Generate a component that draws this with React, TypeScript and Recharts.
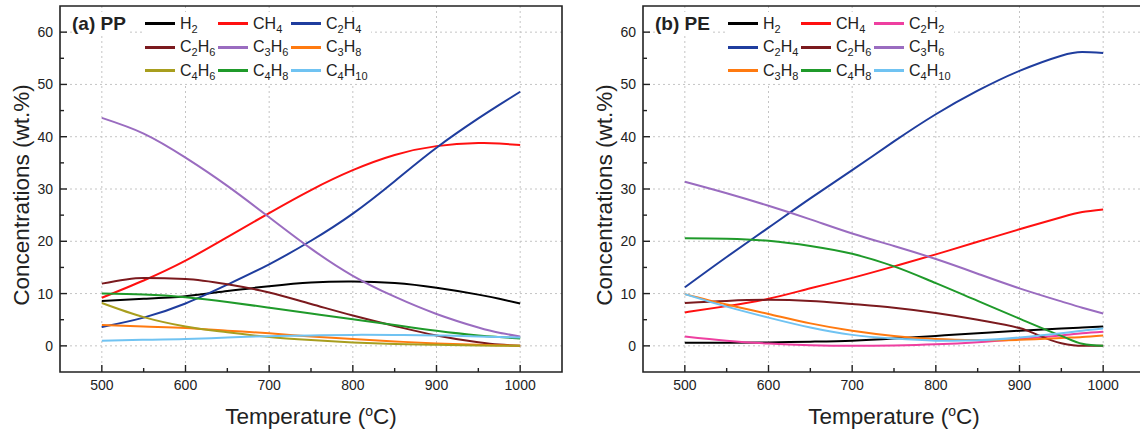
import { CartesianGrid, Legend, Line, LineChart, ReferenceArea, XAxis, YAxis } from "recharts";

const temps = [500, 550, 600, 650, 700, 750, 800, 850, 900, 950, 975, 1000];
const xTicks = [500, 550, 600, 650, 700, 750, 800, 850, 900, 950, 1000];
const yTicks = [0, 5, 10, 15, 20, 25, 30, 35, 40, 45, 50, 55, 60];
const xGrid = [500, 600, 700, 800, 900, 1000];
const yGrid = [0, 10, 20, 30, 40, 50, 60];

// (a) PP
const ppH2 = [8.6, 9.0, 9.5, 10.5, 11.4, 12.1, 12.3, 12.0, 11.1, 9.8, 9.0, 8.1];
const ppCH4 = [9.2, 12.5, 16.3, 20.8, 25.4, 29.8, 33.6, 36.5, 38.2, 38.8, 38.7, 38.4];
const ppC2H4 = [3.6, 5.4, 8.1, 11.7, 15.6, 20.1, 25.3, 31.5, 37.9, 43.5, 46.1, 48.6];
const ppC2H6 = [11.9, 13.0, 12.8, 11.8, 10.2, 8.0, 5.8, 3.8, 2.0, 0.7, 0.25, 0];
const ppC3H6 = [43.6, 40.6, 36.0, 30.6, 24.6, 18.6, 13.4, 9.4, 6.1, 3.5, 2.5, 1.8];
const ppC3H8 = [4.0, 3.7, 3.4, 2.9, 2.4, 1.8, 1.3, 0.85, 0.45, 0.2, 0.1, 0];
const ppC4H6 = [8.2, 5.5, 3.7, 2.6, 1.7, 1.1, 0.65, 0.35, 0.2, 0.08, 0.03, 0];
const ppC4H8 = [10.0, 9.8, 9.3, 8.4, 7.3, 6.2, 5.1, 4.0, 2.9, 2.0, 1.7, 1.4];
const ppC4H10 = [1.0, 1.15, 1.3, 1.6, 1.85, 2.0, 2.1, 2.1, 2.0, 1.8, 1.7, 1.6];

// (b) PE
const peH2 = [0.6, 0.6, 0.65, 0.8, 1.0, 1.4, 1.9, 2.4, 2.9, 3.3, 3.5, 3.7];
const peCH4 = [6.4, 7.6, 9.0, 11.0, 13.0, 15.2, 17.5, 19.9, 22.3, 24.6, 25.6, 26.1];
const peC2H2 = [1.8, 1.0, 0.45, 0.12, 0, 0.08, 0.3, 0.7, 1.3, 2.0, 2.4, 2.7];
const peC2H4 = [11.2, 17.0, 22.6, 28.2, 33.6, 39.1, 44.3, 48.8, 52.6, 55.5, 56.2, 56.0];
const peC2H6 = [8.2, 8.6, 8.8, 8.6, 8.0, 7.3, 6.3, 5.0, 3.4, 0.5, 0, 0];
const peC3H6 = [31.4, 29.2, 26.8, 24.2, 21.5, 19.1, 16.6, 13.8, 11.0, 8.5, 7.3, 6.2];
const peC3H8 = [9.9, 7.9, 6.1, 4.3, 2.9, 1.9, 1.3, 1.1, 1.15, 1.5, 1.7, 2.0];
const peC4H8 = [20.6, 20.5, 20.1, 19.1, 17.6, 15.2, 12.0, 8.6, 5.2, 1.9, 0.4, 0];
const peC4H10 = [9.9, 7.5, 5.4, 3.5, 2.1, 1.4, 1.0, 1.05, 1.6, 2.4, 2.9, 3.3];

const colors: Record<string, string> = {
  H2: "#000000",
  CH4: "#ff1010",
  C2H2: "#ee3fa0",
  C2H4: "#1f3d9e",
  C2H6: "#7b1a1e",
  C3H6: "#9a6cc0",
  C3H8: "#ff7a10",
  C4H6: "#a89e1e",
  C4H8: "#1f9a2a",
  C4H10: "#70c3f2",
};

const FONT = "Arial, 'Liberation Sans', sans-serif";
const INK = "#222";

type Series = { name: string; values: number[]; curve?: "natural" | "monotone" };

const ppSeries: Series[] = [
  { name: "H2", values: ppH2 },
  { name: "CH4", values: ppCH4 },
  { name: "C2H4", values: ppC2H4 },
  { name: "C2H6", values: ppC2H6, curve: "monotone" },
  { name: "C3H6", values: ppC3H6 },
  { name: "C3H8", values: ppC3H8, curve: "monotone" },
  { name: "C4H6", values: ppC4H6, curve: "monotone" },
  { name: "C4H8", values: ppC4H8 },
  { name: "C4H10", values: ppC4H10 },
];

const peSeries: Series[] = [
  { name: "H2", values: peH2 },
  { name: "CH4", values: peCH4 },
  { name: "C2H2", values: peC2H2, curve: "monotone" },
  { name: "C2H4", values: peC2H4 },
  { name: "C2H6", values: peC2H6, curve: "monotone" },
  { name: "C3H6", values: peC3H6 },
  { name: "C3H8", values: peC3H8 },
  { name: "C4H8", values: peC4H8, curve: "monotone" },
  { name: "C4H10", values: peC4H10 },
];

const toRows = (series: Series[]) =>
  temps.map((T, i) => {
    const row: Record<string, number> = { T };
    series.forEach((s) => (row[s.name] = s.values[i]));
    return row;
  });

// digits become subscripts
const Formula = ({ name }: { name: string }) => (
  <span>
    {name.split("").map((ch, i) =>
      /\d/.test(ch) ? (
        <sub key={i} style={{ fontSize: 11, verticalAlign: "-4px", lineHeight: 0 }}>
          {ch}
        </sub>
      ) : (
        <span key={i}>{ch}</span>
      )
    )}
  </span>
);

const LegendBox = ({ label, series }: { label: string; series: Series[] }) => (
  <div style={{ position: "relative", fontFamily: FONT, color: INK }}>
    <div
      style={{
        position: "absolute",
        left: 0,
        top: 0,
        height: 24,
        lineHeight: "24px",
        fontSize: 19,
        fontWeight: "bold",
        background: "#fff",
        paddingRight: 2,
      }}
    >
      {label}
    </div>
    <div
      style={{
        position: "absolute",
        left: 73,
        top: 0,
        display: "grid",
        gridTemplateColumns: "73px 73px 80px",
        background: "#fff",
      }}
    >
      {series.map((s) => (
        <div key={s.name} style={{ display: "flex", alignItems: "center", height: 23.5 }}>
          <span style={{ width: 30, height: 3, background: colors[s.name], marginRight: 5 }} />
          <span style={{ fontSize: 16, lineHeight: "16px" }}>
            <Formula name={s.name} />
          </span>
        </div>
      ))}
    </div>
  </div>
);

const XTick = (props: any) => {
  const { x, y, payload } = props;
  const major = payload.value % 100 === 0;
  return (
    <g>
      <line x1={x} x2={x} y1={y} y2={y - (major ? 7 : 4)} stroke={INK} strokeWidth={1.4} />
      {major && (
        <text x={x} y={y + 18} textAnchor="middle" fontSize={14} fontFamily={FONT} fill={INK}>
          {payload.value}
        </text>
      )}
    </g>
  );
};

const YTick = (props: any) => {
  const { x, y, payload } = props;
  const major = payload.value % 10 === 0;
  return (
    <g>
      <line x1={x} x2={x + (major ? 7 : 4)} y1={y} y2={y} stroke={INK} strokeWidth={1.4} />
      {major && (
        <text x={x - 7} y={y + 5} textAnchor="end" fontSize={14} fontFamily={FONT} fill={INK}>
          {payload.value}
        </text>
      )}
    </g>
  );
};

const XLabel = (props: any) => {
  const { x, y, width } = props.viewBox;
  return (
    <text x={x + width / 2} y={y + 52} textAnchor="middle" fontSize={22.5} fontFamily={FONT} fill={INK}>
      Temperature (<tspan dy={-8} fontSize={14}>o</tspan>
      <tspan dy={8}>C)</tspan>
    </text>
  );
};

const YLabel = (props: any) => {
  const { x, y, width, height } = props.viewBox;
  const cx = x + width - 39;
  const cy = y + height / 2 + 6;
  return (
    <text
      x={cx}
      y={cy}
      transform={`rotate(-90 ${cx} ${cy})`}
      textAnchor="middle"
      dominantBaseline="central"
      fontSize={22.5}
      fontFamily={FONT}
      fill={INK}
    >
      Concentrations (wt.%)
    </text>
  );
};

const Panel = ({
  label,
  series,
  yAxisWidth,
  width,
}: {
  label: string;
  series: Series[];
  yAxisWidth: number;
  width: number;
}) => (
  <LineChart
    width={width}
    height={432}
    data={toRows(series)}
    margin={{ top: 6, right: 8, bottom: 0, left: 0 }}
  >
    <CartesianGrid
      stroke="#c4c4c4"
      strokeDasharray="2 3"
      horizontalValues={yGrid}
      verticalValues={xGrid}
    />
    <XAxis
      dataKey="T"
      type="number"
      domain={[450, 1050]}
      ticks={xTicks}
      interval={0}
      height={60}
      axisLine={false}
      tickLine={false}
      tickSize={0}
      tickMargin={0}
      tick={<XTick />}
      label={<XLabel />}
    />
    <YAxis
      type="number"
      domain={[-5, 65]}
      ticks={yTicks}
      interval={0}
      width={yAxisWidth}
      axisLine={false}
      tickLine={false}
      tickSize={0}
      tickMargin={0}
      tick={<YTick />}
      label={<YLabel />}
    />
    <ReferenceArea x1={450} x2={1050} y1={-5} y2={65} fill="none" stroke={INK} strokeWidth={1.6} strokeOpacity={1} />
    {series.map((s) => (
      <Line
        key={s.name}
        type={s.curve ?? "natural"}
        dataKey={s.name}
        stroke={colors[s.name]}
        strokeWidth={2}
        dot={false}
        isAnimationActive={false}
      />
    ))}
    <Legend
      layout="horizontal"
      verticalAlign="middle"
      align="center"
      wrapperStyle={{ left: yAxisWidth + 12, top: 12, width: 320, height: 72 }}
      content={() => <LegendBox label={label} series={series} />}
    />
  </LineChart>
);

export default function App() {
  return (
    <div
      style={{
        position: "absolute",
        left: 0,
        top: 0,
        width: 1140,
        height: 432,
        overflow: "hidden",
        background: "#fff",
        display: "flex",
      }}
    >
      <div style={{ width: 570, flex: "none" }}>
        <Panel label="(a) PP" series={ppSeries} yAxisWidth={60} width={570} />
      </div>
      <div style={{ width: 583, flex: "none" }}>
        <Panel label="(b) PE" series={peSeries} yAxisWidth={73} width={583} />
      </div>
    </div>
  );
}
